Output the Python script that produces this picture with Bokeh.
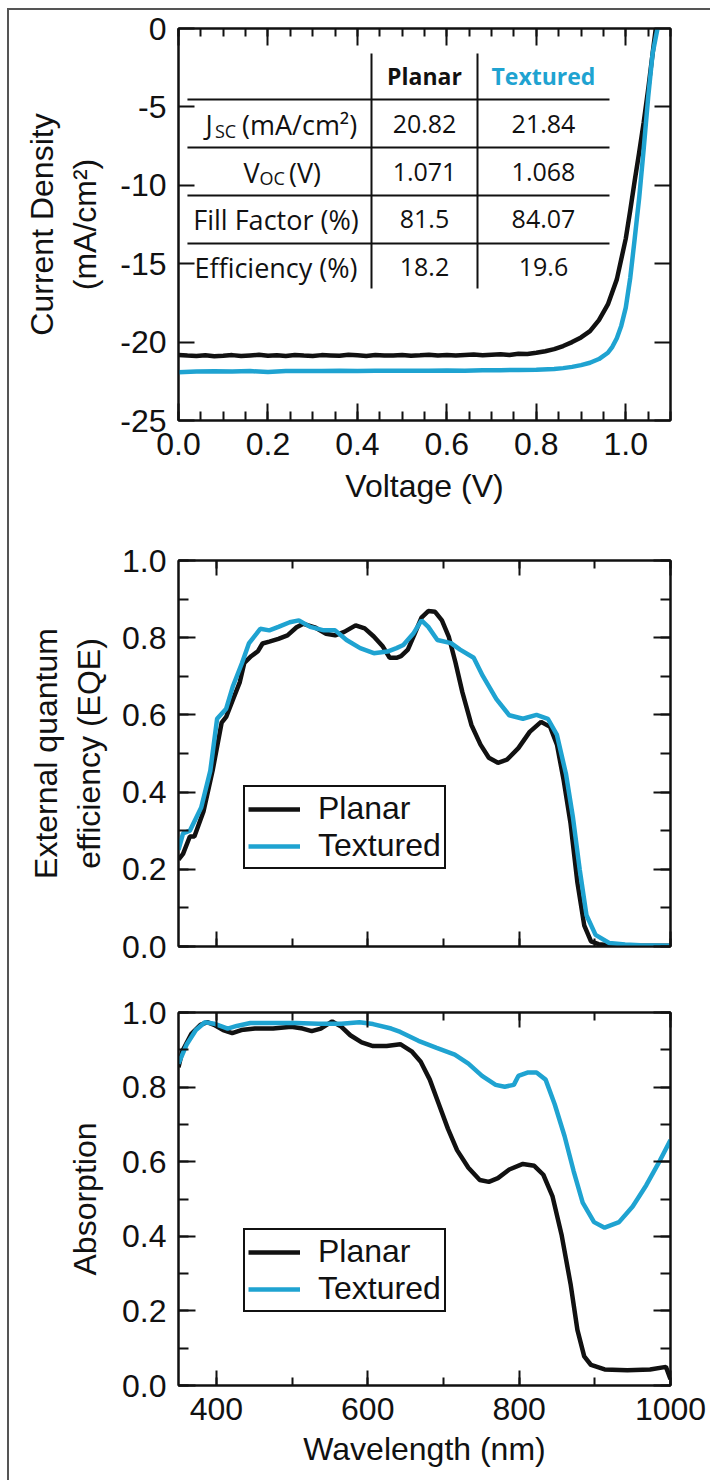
from bokeh.plotting import figure
from bokeh.models import (Range1d, LinearAxis, SingleIntervalTicker, PrintfTickFormatter,
                          CustomJSTickFormatter, Legend, LegendItem, Label)
from bokeh.layouts import column
from bokeh.embed import file_html
from bokeh.resources import INLINE
from bokeh.core.properties import value

BLACK = "#111111"
BLUE = "#1FA3D1"
FONT = "Liberation Sans"
TFONT = "Open Sans"
FS = "32px"
TFS = "27px"
NFS = "25px"
HFS = "23px"

# ---------------- (a) J-V data ----------------
jv_planar_v = [0.00, 0.02, 0.04, 0.06, 0.08, 0.10, 0.12, 0.14, 0.16, 0.18,
               0.20, 0.22, 0.24, 0.26, 0.28, 0.30, 0.32, 0.34, 0.36, 0.38,
               0.40, 0.42, 0.44, 0.46, 0.48, 0.50, 0.52, 0.54, 0.56, 0.58,
               0.60, 0.62, 0.64, 0.66, 0.68, 0.70, 0.72, 0.74, 0.76, 0.78,
               0.80, 0.82, 0.84, 0.86, 0.88, 0.90, 0.92, 0.94, 0.96, 0.98,
               1.00, 1.01, 1.02, 1.03, 1.04, 1.05, 1.06, 1.068]
jv_planar_j = [-20.82, -20.86, -20.88, -20.84, -20.90, -20.87, -20.83, -20.89, -20.85, -20.81,
               -20.87, -20.84, -20.88, -20.82, -20.86, -20.89, -20.83, -20.85, -20.87, -20.80,
               -20.84, -20.88, -20.83, -20.86, -20.85, -20.82, -20.87, -20.84, -20.80, -20.85,
               -20.83, -20.86, -20.82, -20.79, -20.84, -20.81, -20.78, -20.82, -20.74, -20.76,
               -20.68, -20.58, -20.45, -20.25, -20.00, -19.70, -19.30, -18.60, -17.60, -16.00,
               -13.40, -11.60, -9.70, -7.90, -6.00, -3.90, -1.60, 0.20]

jv_textured_v = [0.00, 0.04, 0.08, 0.12, 0.16, 0.20, 0.24, 0.28, 0.32, 0.36,
                 0.40, 0.44, 0.48, 0.52, 0.56, 0.60, 0.64, 0.68, 0.72, 0.76,
                 0.80, 0.84, 0.86, 0.88, 0.90, 0.92, 0.94, 0.96, 0.97, 0.98,
                 0.99, 1.00, 1.01, 1.02, 1.03, 1.04, 1.05, 1.06, 1.073]
jv_textured_j = [-21.92, -21.88, -21.86, -21.87, -21.85, -21.91, -21.84, -21.85, -21.84, -21.83,
                 -21.84, -21.83, -21.82, -21.83, -21.82, -21.81, -21.82, -21.80, -21.79, -21.78,
                 -21.76, -21.72, -21.66, -21.58, -21.47, -21.32, -21.08, -20.68, -20.30, -19.75,
                 -18.95, -17.80, -15.90, -13.40, -10.80, -7.70, -4.40, -1.60, 0.30]

# table inside (a)
tbl_rows = ["Jsc", "Voc", "Fill Factor (%)", "Efficiency (%)"]
tbl_planar = ["20.82", "1.071", "81.5", "18.2"]
tbl_textured = ["21.84", "1.068", "84.07", "19.6"]
tbl_headers = ["Planar", "Textured"]

# ---------------- (b) EQE data ----------------
eqe_planar_wl = [350, 356, 365, 371, 383, 395, 407, 413, 422, 431, 437, 446, 455, 461, 470,
                 482, 494, 506, 515, 530, 545, 557, 569, 584, 596, 608, 620, 629, 638, 644,
                 653, 662, 671, 680, 689, 698, 707, 716, 725, 737, 749, 760, 772, 784, 799,
                 814, 829, 841, 850, 859, 868, 877, 886, 895, 905, 920, 950, 1000]
eqe_planar = [0.225, 0.24, 0.285, 0.285, 0.35, 0.455, 0.58, 0.595, 0.64, 0.685, 0.735, 0.752,
              0.765, 0.785, 0.79, 0.797, 0.806, 0.827, 0.836, 0.827, 0.81, 0.806, 0.815, 0.832,
              0.824, 0.803, 0.777, 0.748, 0.748, 0.752, 0.769, 0.81, 0.852, 0.869, 0.867, 0.845,
              0.803, 0.735, 0.659, 0.574, 0.523, 0.489, 0.476, 0.484, 0.514, 0.556, 0.582, 0.569,
              0.523, 0.429, 0.318, 0.166, 0.055, 0.013, 0.006, 0.003, 0.002, 0.002]
eqe_textured_wl = [350, 356, 365, 380, 392, 401, 413, 422, 434, 443, 458, 470, 482, 497, 509,
                   524, 542, 557, 572, 590, 608, 626, 638, 647, 660, 671, 680, 692, 710, 722,
                   740, 752, 770, 787, 805, 823, 838, 850, 862, 871, 880, 889, 901, 919, 940,
                   960, 1000]
eqe_textured = [0.25, 0.293, 0.30, 0.36, 0.455, 0.59, 0.616, 0.675, 0.735, 0.785, 0.823, 0.819,
                0.828, 0.84, 0.845, 0.828, 0.819, 0.819, 0.794, 0.773, 0.76, 0.764, 0.773, 0.781,
                0.81, 0.845, 0.828, 0.794, 0.786, 0.769, 0.748, 0.701, 0.641, 0.599, 0.59, 0.60,
                0.59, 0.548, 0.446, 0.336, 0.20, 0.081, 0.03, 0.009, 0.005, 0.003, 0.002]

# ---------------- (c) Absorption data ----------------
abs_planar_wl = [350, 355, 367, 379, 388, 397, 409, 421, 433, 451, 475, 499, 514, 526, 538,
                 553, 565, 577, 592, 607, 625, 643, 658, 670, 682, 694, 706, 718, 733, 748,
                 760, 772, 787, 805, 820, 832, 844, 856, 868, 877, 886, 895, 913, 943, 973,
                 994, 1000]
abs_planar = [0.853, 0.896, 0.943, 0.967, 0.974, 0.967, 0.953, 0.945, 0.953, 0.957, 0.957,
              0.962, 0.957, 0.95, 0.957, 0.976, 0.962, 0.939, 0.92, 0.91, 0.91, 0.915, 0.896,
              0.868, 0.82, 0.754, 0.688, 0.631, 0.584, 0.551, 0.546, 0.556, 0.579, 0.594, 0.589,
              0.565, 0.508, 0.405, 0.272, 0.149, 0.078, 0.055, 0.043, 0.041, 0.043, 0.05, 0.017]
abs_textured_wl = [350, 361, 373, 385, 397, 415, 427, 445, 475, 505, 535, 565, 589, 607, 631,
                   643, 667, 691, 715, 733, 751, 769, 781, 793, 799, 811, 823, 835, 847, 860,
                   872, 884, 899, 913, 932, 950, 968, 986, 1000]
abs_textured = [0.863, 0.915, 0.953, 0.974, 0.97, 0.957, 0.964, 0.972, 0.972, 0.972, 0.97,
                0.97, 0.974, 0.969, 0.957, 0.948, 0.924, 0.905, 0.887, 0.863, 0.83, 0.806, 0.801,
                0.806, 0.83, 0.839, 0.839, 0.82, 0.754, 0.669, 0.575, 0.49, 0.438, 0.423, 0.438,
                0.48, 0.537, 0.603, 0.658]


def style_axis(ax, major_in, minor_in, labels=True, standoff=12):
    ax.major_tick_in = major_in
    ax.major_tick_out = 0
    ax.minor_tick_in = minor_in
    ax.minor_tick_out = 0
    ax.axis_line_width = 2
    ax.major_tick_line_width = 2
    ax.minor_tick_line_width = 2
    ax.axis_line_color = BLACK
    ax.major_tick_line_color = BLACK
    ax.minor_tick_line_color = BLACK if minor_in > 0 else None
    ax.axis_label_text_font = FONT
    ax.axis_label_text_font_size = FS
    ax.axis_label_text_font_style = "normal"
    ax.axis_label_text_color = BLACK
    if labels:
        ax.major_label_text_font = FONT
        ax.major_label_text_font_size = FS
        ax.major_label_text_color = BLACK
        ax.major_label_standoff = standoff
    else:
        ax.formatter = CustomJSTickFormatter(code="return ''")
        ax.major_label_text_font_size = "1px"
        ax.major_label_text_color = None
        ax.major_label_standoff = 0


def make_fig(xr, yr, fw, fh, left, right, top, bottom):
    p = figure(frame_width=fw, frame_height=fh, x_range=xr, y_range=yr,
               min_border_left=left, min_border_right=right,
               min_border_top=top, min_border_bottom=bottom,
               output_backend="svg", toolbar_location=None)
    p.grid.visible = False
    p.outline_line_color = BLACK
    p.outline_line_width = 2
    p.background_fill_color = "white"
    p.border_fill_color = "white"
    return p


def mirror_axes(p, xtick, ytick, xmaj, xmin, ymaj, ymin):
    top = LinearAxis(ticker=xtick)
    style_axis(top, xmaj, xmin, labels=False)
    right = LinearAxis(ticker=ytick)
    style_axis(right, ymaj, ymin, labels=False)
    p.add_layout(top, "above")
    p.add_layout(right, "right")


def panel_label(p, text, x, y, dx, dy):
    p.add_layout(Label(x=x, y=y, x_offset=dx, y_offset=dy, text=text,
                       text_font=FONT, text_font_size=FS, text_color=BLACK,
                       text_align="center", text_baseline="middle"))


def add_legend(p, r1, r2, loc):
    lg = Legend(items=[LegendItem(label="Planar", renderers=[r1]),
                       LegendItem(label="Textured", renderers=[r2])],
                location=loc, border_line_color=BLACK, border_line_width=2,
                border_line_alpha=1.0,
                label_text_font=FONT, label_text_font_size=FS, label_text_color=BLACK,
                glyph_width=52, glyph_height=30, label_height=30, label_standoff=18,
                padding=3, spacing=0, margin=0, background_fill_alpha=1.0)
    p.add_layout(lg)


LW = 4.5
LEFT, RIGHT = 169, 40

# ================= Panel (a) =================
pa = make_fig(Range1d(0, 1.1), Range1d(-25, 0), 492, 392, LEFT, RIGHT, 18, 110)
pa.xaxis.ticker = SingleIntervalTicker(interval=0.2, num_minor_ticks=4)
pa.xaxis.formatter = PrintfTickFormatter(format="%.1f")
pa.yaxis.ticker = SingleIntervalTicker(interval=5, num_minor_ticks=0)
pa.yaxis.formatter = PrintfTickFormatter(format="%d")
style_axis(pa.xaxis[0], 17, 9, standoff=12)
style_axis(pa.yaxis[0], 16, 0, standoff=12)
pa.xaxis.axis_label = "Voltage (V)"
pa.xaxis.axis_label_standoff = 10
pa.yaxis.axis_label = "Current Density\n(mA/cm²)"
pa.yaxis.axis_label_standoff = 14
mirror_axes(pa, SingleIntervalTicker(interval=0.2, num_minor_ticks=4),
            SingleIntervalTicker(interval=5, num_minor_ticks=0), 17, 8, 16, 0)

pa.line(jv_planar_v, jv_planar_j, line_color=BLACK, line_width=LW)
pa.line(jv_textured_v, jv_textured_j, line_color=BLUE, line_width=LW)

# table geometry (data units)
hl_y = [-4.53, -7.59, -10.65, -13.71]
pa.segment(x0=[0.020] * 4, y0=hl_y, x1=[0.9636] * 4, y1=hl_y, line_color=BLACK, line_width=2)
vl_x = [0.4315, 0.6685]
pa.segment(x0=vl_x, y0=[-1.594] * 2, x1=vl_x, y1=[-16.58] * 2, line_color=BLACK, line_width=2)

col_x = [0.550, 0.816]
row_y = [-6.12, -9.16, -12.18, -15.22]
pa.text(x=col_x, y=[-3.06] * 2, text=tbl_headers, text_font=value(TFONT), text_font_size=HFS,
        text_font_style="bold", text_color=[BLACK, BLUE], text_align="center", text_baseline="middle")
pa.text(x=[col_x[0]] * 4, y=row_y, text=tbl_planar, text_font=value(TFONT), text_font_size=NFS,
        text_color=BLACK, text_align="center", text_baseline="middle")
pa.text(x=[col_x[1]] * 4, y=row_y, text=tbl_textured, text_font=value(TFONT), text_font_size=NFS,
        text_color=BLACK, text_align="center", text_baseline="middle")
# plain row labels
pa.text(x=[0.2180] * 2, y=row_y[2:], text=tbl_rows[2:], text_font=value(TFONT), text_font_size=TFS,
        text_color=BLACK, text_align="center", text_baseline="middle")
# row labels with subscripts
pa.text(x=[0.0604, 0.1420, 0.1453, 0.2470], y=[row_y[0], row_y[0], row_y[1], row_y[1]],
        text=["J", "(mA/cm²)", "V", "(V)"], text_font=value(TFONT), text_font_size=TFS,
        text_color=BLACK, text_align="left", text_baseline="middle")
pa.text(x=[0.0815, 0.1810], y=[row_y[0] - 0.4, row_y[1] - 0.4], text=["SC", "OC"],
        text_font=value(TFONT), text_font_size="18px", text_color=BLACK,
        text_align="left", text_baseline="middle")

panel_label(pa, "(a)", 0, 0, -136, -1)

# ================= Panel (b) =================
pb = make_fig(Range1d(350, 1000), Range1d(0, 1.0), 492, 386, LEFT, RIGHT, 30, 34)
pb.xaxis.ticker = SingleIntervalTicker(interval=200, num_minor_ticks=2)
pb.yaxis.ticker = SingleIntervalTicker(interval=0.2, num_minor_ticks=2)
pb.yaxis.formatter = PrintfTickFormatter(format="%.1f")
style_axis(pb.xaxis[0], 15, 8, labels=False)
style_axis(pb.yaxis[0], 17, 10, standoff=12)
pb.yaxis.axis_label = "External quantum\nefficiency (EQE)"
pb.yaxis.axis_label_standoff = 12
mirror_axes(pb, SingleIntervalTicker(interval=200, num_minor_ticks=2),
            SingleIntervalTicker(interval=0.2, num_minor_ticks=2), 15, 8, 17, 10)
rb1 = pb.line(eqe_planar_wl, eqe_planar, line_color=BLACK, line_width=LW)
rb2 = pb.line(eqe_textured_wl, eqe_textured, line_color=BLUE, line_width=LW)
panel_label(pb, "(b)", 350, 1.0, -132, -4)
add_legend(pb, rb1, rb2, (65, 77))

# ================= Panel (c) =================
pc = make_fig(Range1d(350, 1000), Range1d(0, 1.0), 492, 373, LEFT, RIGHT, 32, 95)
pc.xaxis.ticker = SingleIntervalTicker(interval=200, num_minor_ticks=2)
pc.yaxis.ticker = SingleIntervalTicker(interval=0.2, num_minor_ticks=2)
pc.yaxis.formatter = PrintfTickFormatter(format="%.1f")
style_axis(pc.xaxis[0], 15, 8, standoff=12)
style_axis(pc.yaxis[0], 17, 10, standoff=12)
pc.xaxis.axis_label = "Wavelength (nm)"
pc.xaxis.axis_label_standoff = 8
pc.yaxis.axis_label = "Absorption"
pc.yaxis.axis_label_standoff = 16
mirror_axes(pc, SingleIntervalTicker(interval=200, num_minor_ticks=2),
            SingleIntervalTicker(interval=0.2, num_minor_ticks=2), 15, 8, 17, 10)
rc1 = pc.line(abs_planar_wl, abs_planar, line_color=BLACK, line_width=LW)
rc2 = pc.line(abs_textured_wl, abs_textured, line_color=BLUE, line_width=LW)
panel_label(pc, "(c)", 350, 1.0, -137, -1)
add_legend(pc, rc1, rc2, (65, 73))

layout = column(pa, pb, pc, spacing=0,
                styles={"border-top": "2px solid #555", "border-left": "2px solid #555",
                        "margin-top": "8px", "margin-left": "7px"})

open("out.html", "w").write(file_html(layout, INLINE))
